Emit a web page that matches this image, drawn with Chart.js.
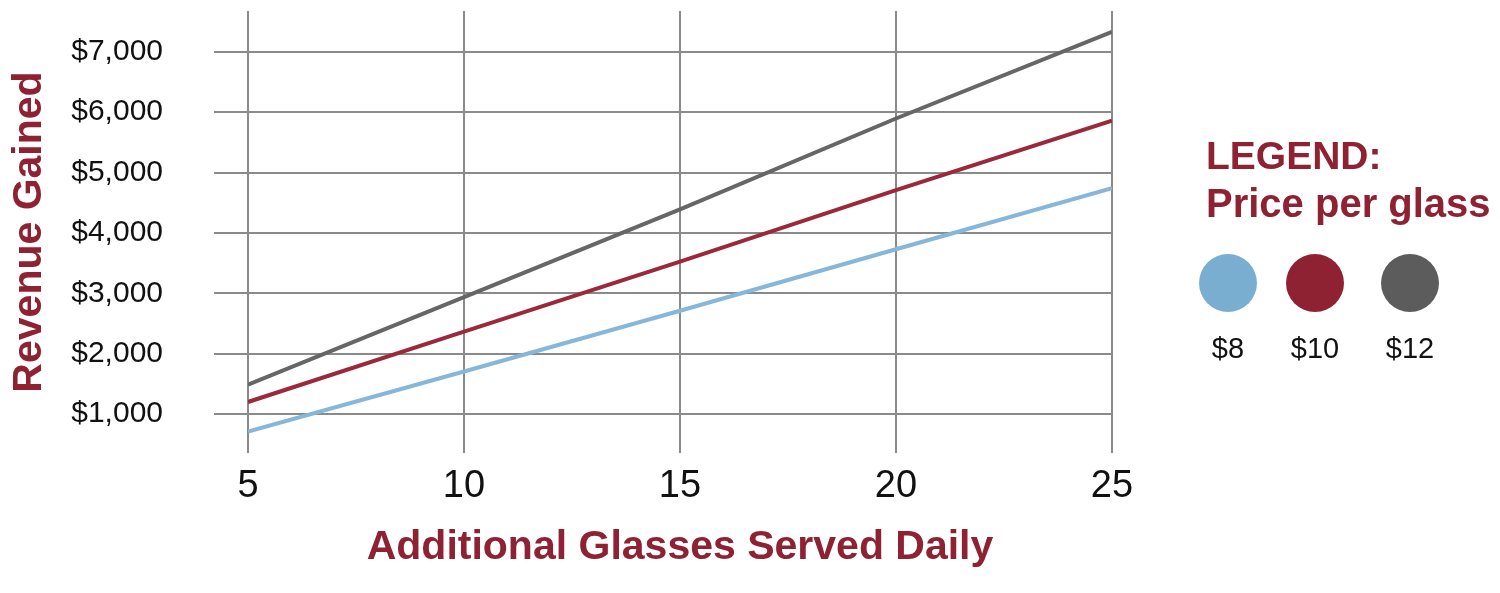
<!DOCTYPE html>
<html>
<head>
<meta charset="utf-8">
<script src="https://cdn.jsdelivr.net/npm/chart.js@4"></script>
<style>
  html, body { margin: 0; padding: 0; background: #fff; }
  #wrap { position: relative; width: 1500px; height: 593px; font-family: "Liberation Sans", Arial, sans-serif; }
  #chart { position: absolute; left: 0; top: 0; }
  .lg { position: absolute; line-height: 1; white-space: nowrap; }
  .head { color: #8e2233; font-weight: bold; }
  .dot { position: absolute; width: 58px; height: 58px; border-radius: 50%; }
  .lab { position: absolute; width: 80px; text-align: center; font-size: 29px; line-height: 1; color: #111; }
</style>
</head>
<body>
<div id="wrap">
  <canvas id="chart" width="1500" height="593"></canvas>
  <div class="lg head" style="left:1206px; top:136px; font-size:39px;">LEGEND:</div>
  <div class="lg head" style="left:1206px; top:183px; font-size:40px;">Price per glass</div>
  <div id="legendItems"></div>
</div>
<script>
// glasses served daily (x) and revenue per price
const glasses = [5, 10, 15, 20, 25];
const price8 = [710, 1705, 2710, 3730, 4740];
const price10 = [1200, 2365, 3525, 4710, 5860];
const price12 = [1485, 2935, 4390, 5895, 7330];
const seriesNames = ['$8', '$10', '$12'];
const seriesColors = ['#86b6da', '#9a2a3b', '#666666'];
const dotColors = ['#7aaed1', '#8e2233', '#5c5c5c'];
const yTicks = [1000, 2000, 3000, 4000, 5000, 6000, 7000];
const xTicks = [5, 10, 15, 20, 25];

const maroon = '#8e2233';
const gridColor = '#8a8a8a';
const fontFamily = '"Liberation Sans", Arial, sans-serif';

function toPoints(vals) {
    return glasses.map((g, i) => ({ x: g, y: vals[i] }));
}

const allSeries = [price8, price10, price12];
const datasets = allSeries.map((vals, i) => ({
    label: seriesNames[i],
    data: toPoints(vals),
    borderColor: seriesColors[i],
    borderWidth: 4,
    pointRadius: 0,
    tension: 0,
    fill: false
}));

// html legend: dots and labels
const legendCenters = [1228, 1315, 1410];
const legendBox = document.getElementById('legendItems');
seriesNames.forEach((name, i) => {
    const d = document.createElement('div');
    d.className = 'dot';
    d.style.left = (legendCenters[i] - 29) + 'px';
    d.style.top = (283 - 29) + 'px';
    d.style.background = dotColors[i];
    legendBox.appendChild(d);
    const l = document.createElement('div');
    l.className = 'lab';
    l.style.left = (legendCenters[i] - 40) + 'px';
    l.style.top = '334px';
    l.textContent = name;
    legendBox.appendChild(l);
});

const ctx = document.getElementById('chart').getContext('2d');
new Chart(ctx, {
    type: 'line',
    data: { datasets: datasets },
    options: {
        responsive: false,
        animation: false,
        devicePixelRatio: 1,
        layout: { padding: { top: 11, right: 388, left: 0, bottom: 0 } },
        plugins: { legend: { display: false }, tooltip: { enabled: false } },
        scales: {
            x: {
                type: 'linear',
                min: 5,
                max: 25,
                afterBuildTicks: function(scale) {
                    scale.ticks = xTicks.map(v => ({ value: v }));
                },
                afterFit: function(scale) { scale.height = 140; },
                border: { display: false },
                grid: { color: gridColor, lineWidth: 2, drawTicks: false },
                ticks: {
                    color: '#111',
                    padding: 11,
                    maxRotation: 0,
                    font: { family: fontFamily, size: 38 }
                },
                title: {
                    display: true,
                    text: 'Additional Glasses Served Daily',
                    color: maroon,
                    padding: { top: 0, bottom: 21 },
                    font: { family: fontFamily, size: 41, weight: 'bold', lineHeight: 1.2 }
                }
            },
            y: {
                type: 'linear',
                min: 355,
                max: 7675,
                afterBuildTicks: function(scale) {
                    scale.ticks = yTicks.map(v => ({ value: v }));
                },
                afterFit: function(scale) {
                    scale.width = 248;
                    scale.paddingTop = 0;
                    scale.paddingBottom = 0;
                },
                border: { display: false },
                grid: { color: gridColor, lineWidth: 2, drawTicks: true, tickLength: 34 },
                ticks: {
                    color: '#111',
                    padding: 51,
                    font: { family: fontFamily, size: 30 },
                    callback: v => '$' + v.toLocaleString('en-US')
                },
                title: {
                    display: true,
                    text: 'Revenue Gained',
                    color: maroon,
                    padding: { top: 5, bottom: 0 },
                    font: { family: fontFamily, size: 41, weight: 'bold', lineHeight: 1.2 }
                }
            }
        }
    }
});
</script>
</body>
</html>
